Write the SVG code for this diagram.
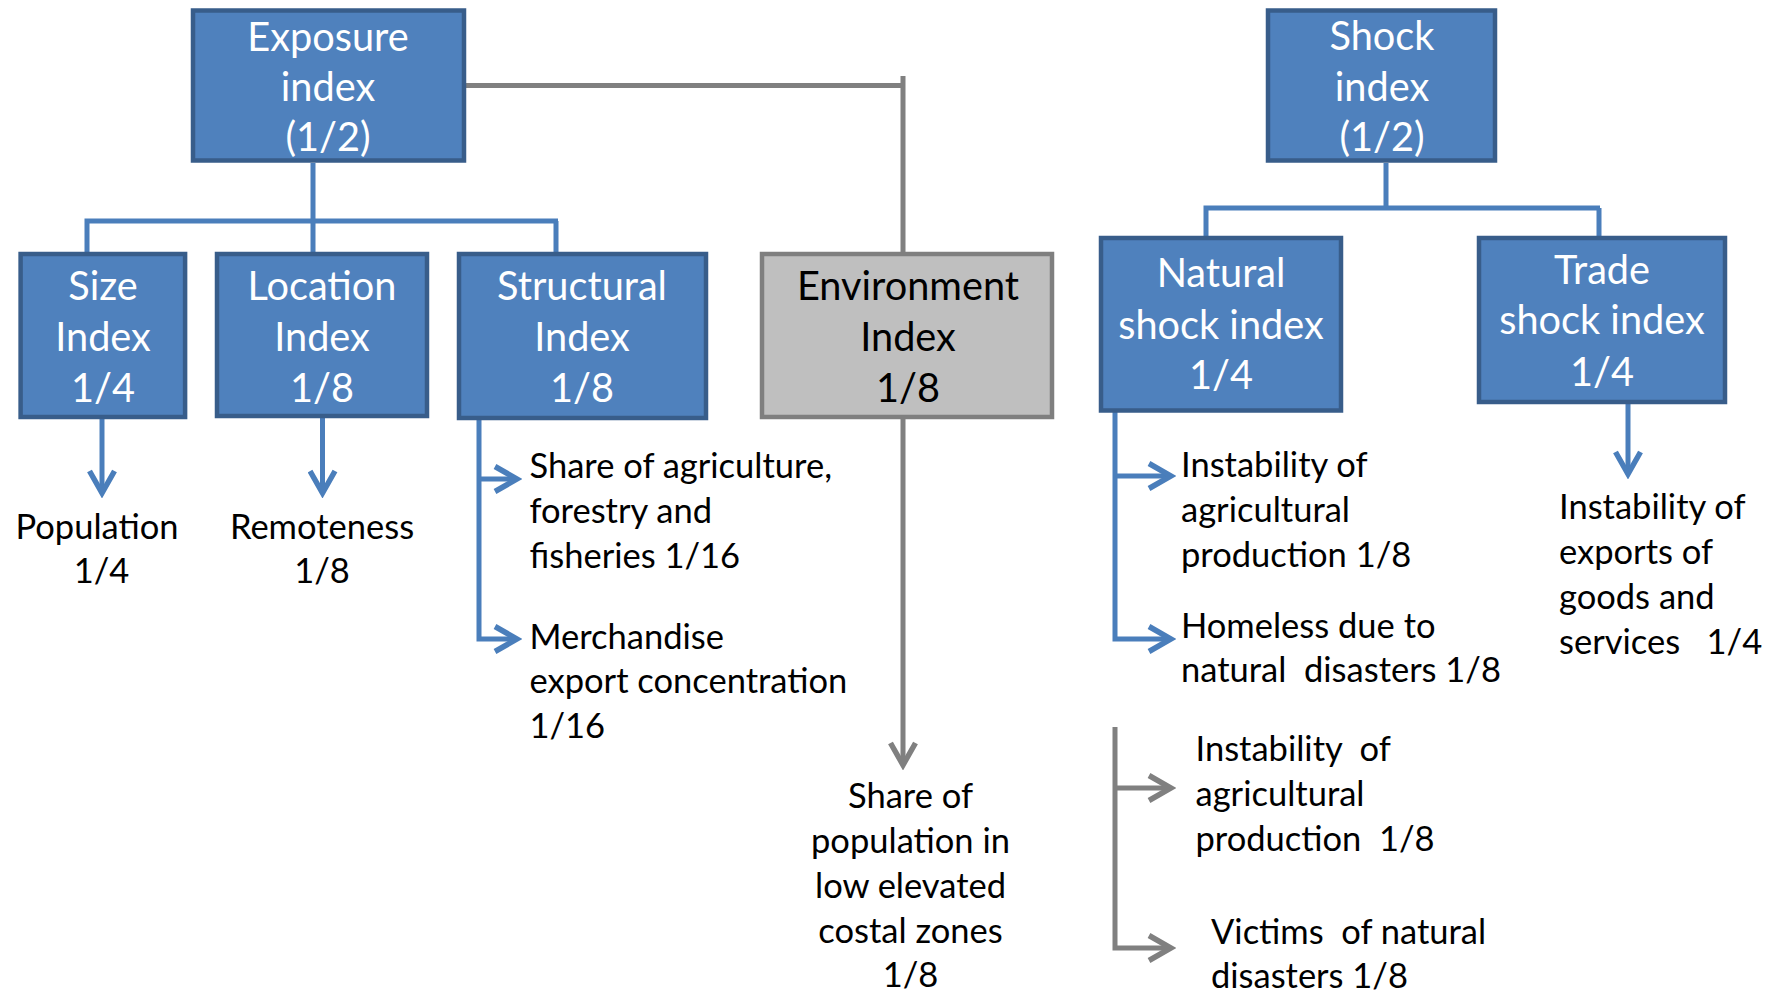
<svg xmlns="http://www.w3.org/2000/svg" width="1769" height="992" viewBox="0 0 1769 992">
<style>
.box{fill:#4F81BD;stroke:#385D8A;stroke-width:4.5}
.gbox{fill:#BFBFBF;stroke:#7F7F7F;stroke-width:4.5}
.bt{font-family:Lato,"Liberation Sans",sans-serif;font-size:39.7px;fill:#FFFFFF;text-anchor:middle}
.gt{font-family:Lato,"Liberation Sans",sans-serif;font-size:39.7px;fill:#000000;text-anchor:middle}
.lt{font-family:Lato,"Liberation Sans",sans-serif;font-size:34.5px;fill:#000000;white-space:pre}
.mid{text-anchor:middle}
.bl{fill:none;stroke:#4A7EBB;stroke-width:5}
.gl{fill:none;stroke:#808080;stroke-width:5}
</style>
<defs>
<marker id="ab" markerUnits="userSpaceOnUse" viewBox="0 0 30 30" refX="25" refY="15" markerWidth="30" markerHeight="30" orient="auto">
<path d="M3,2.5 L25,15 L3,27.5" fill="none" stroke="#4A7EBB" stroke-width="5.5"/>
</marker>
<marker id="ag" markerUnits="userSpaceOnUse" viewBox="0 0 30 30" refX="25" refY="15" markerWidth="30" markerHeight="30" orient="auto">
<path d="M3,2.5 L25,15 L3,27.5" fill="none" stroke="#808080" stroke-width="5.5"/>
</marker>
</defs>
<rect width="1769" height="992" fill="#FFFFFF"/>
<g id="connectors">
<path class="bl" d="M87,254 V221 H558 M556,221 V254 M313,163 V254"/>
<path class="bl" d="M1206,238 V208 H1600 M1599,208 V238 M1386,163 V208"/>
<path class="gl" d="M466,85.5 H905" stroke-width="6"/>
<path class="gl" d="M903,76 V254" stroke-width="4.5"/>
<path class="bl" d="M102,419 V493" marker-end="url(#ab)"/>
<path class="bl" d="M322.5,418 V493" marker-end="url(#ab)"/>
<path class="bl" d="M479,420 V639 H517" marker-end="url(#ab)"/>
<path class="bl" d="M479,479 H517" marker-end="url(#ab)"/>
<path class="gl" d="M903,419 V765" stroke-width="4.5" marker-end="url(#ag)"/>
<path class="bl" d="M1115,412 V639 H1171" marker-end="url(#ab)"/>
<path class="bl" d="M1115,476 H1171" marker-end="url(#ab)"/>
<path class="bl" d="M1628,404 V474" marker-end="url(#ab)"/>
<path class="gl" d="M1115,727 V948 H1171" stroke-width="5.5" marker-end="url(#ag)"/>
<path class="gl" d="M1115,788 H1171" stroke-width="5.5" marker-end="url(#ag)"/>
</g>
<g id="exposure">
<rect class="box" x="193" y="10.5" width="271" height="150"/>
<text class="bt"><tspan x="328" y="51">Exposure</tspan><tspan x="328" y="101">index</tspan><tspan x="328" y="151">(1/2)</tspan></text>
</g>
<g id="shock">
<rect class="box" x="1268" y="10.5" width="227" height="150"/>
<text class="bt"><tspan x="1382" y="49.5">Shock</tspan><tspan x="1382" y="100.5">index</tspan><tspan x="1382" y="151">(1/2)</tspan></text>
</g>
<g id="size">
<rect class="box" x="20.6" y="254" width="164.5" height="163"/>
<text class="bt"><tspan x="103" y="299.5">Size</tspan><tspan x="103" y="350.5">Index</tspan><tspan x="103" y="401.5">1/4</tspan></text>
</g>
<g id="location">
<rect class="box" x="217" y="254" width="210" height="162"/>
<text class="bt"><tspan x="322" y="299.5">Location</tspan><tspan x="322" y="350.5">Index</tspan><tspan x="322" y="401.5">1/8</tspan></text>
</g>
<g id="structural">
<rect class="box" x="459" y="254" width="247" height="164"/>
<text class="bt"><tspan x="582" y="299.5">Structural</tspan><tspan x="582" y="350.5">Index</tspan><tspan x="582" y="401.5">1/8</tspan></text>
</g>
<g id="environment">
<rect class="gbox" x="762" y="254" width="290" height="163"/>
<text class="gt"><tspan x="908" y="299.5">Environment</tspan><tspan x="908" y="350.5">Index</tspan><tspan x="908" y="401.5">1/8</tspan></text>
</g>
<g id="natural">
<rect class="box" x="1101" y="238" width="240" height="172.5"/>
<text class="bt"><tspan x="1221" y="287">Natural</tspan><tspan x="1221" y="339">shock index</tspan><tspan x="1221" y="389">1/4</tspan></text>
</g>
<g id="trade">
<rect class="box" x="1479" y="238" width="246" height="164"/>
<text class="bt"><tspan x="1602" y="284">Trade</tspan><tspan x="1602" y="334">shock index</tspan><tspan x="1602" y="386">1/4</tspan></text>
</g>
<g id="population">
<text class="lt mid"><tspan x="97" y="539">Population</tspan><tspan x="101.5" y="583">1/4</tspan></text>
</g>
<g id="remoteness">
<text class="lt mid"><tspan x="322" y="539">Remoteness</tspan><tspan x="322" y="583">1/8</tspan></text>
</g>
<g id="share-agri">
<text class="lt"><tspan x="529.5" y="478">Share of agriculture,</tspan><tspan x="529.5" y="523">forestry and</tspan><tspan x="529.5" y="568">fisheries 1/16</tspan></text>
</g>
<g id="merchandise">
<text class="lt"><tspan x="529.5" y="649">Merchandise</tspan><tspan x="529.5" y="693">export concentration</tspan><tspan x="529.5" y="738">1/16</tspan></text>
</g>
<g id="share-pop">
<text class="lt mid"><tspan x="910.5" y="807.5">Share of</tspan><tspan x="910.5" y="852.5">population in</tspan><tspan x="910.5" y="897.5">low elevated</tspan><tspan x="910.5" y="942.5">costal zones</tspan><tspan x="910.5" y="987">1/8</tspan></text>
</g>
<g id="instab-agri-1">
<text class="lt"><tspan x="1181" y="477">Instability of</tspan><tspan x="1181" y="522">agricultural</tspan><tspan x="1181" y="567">production 1/8</tspan></text>
</g>
<g id="homeless">
<text class="lt" xml:space="preserve"><tspan x="1181" y="638">Homeless due to</tspan><tspan x="1181" y="682">natural  disasters 1/8</tspan></text>
</g>
<g id="instab-exports">
<text class="lt" xml:space="preserve"><tspan x="1559" y="519">Instability of</tspan><tspan x="1559" y="564">exports of</tspan><tspan x="1559" y="609">goods and</tspan><tspan x="1559" y="654">services   1/4</tspan></text>
</g>
<g id="instab-agri-2">
<text class="lt" xml:space="preserve"><tspan x="1195.5" y="761">Instability  of</tspan><tspan x="1195.5" y="806">agricultural</tspan><tspan x="1195.5" y="851">production  1/8</tspan></text>
</g>
<g id="victims">
<text class="lt" xml:space="preserve"><tspan x="1211" y="944">Victims  of natural</tspan><tspan x="1211" y="988">disasters 1/8</tspan></text>
</g>
</svg>
